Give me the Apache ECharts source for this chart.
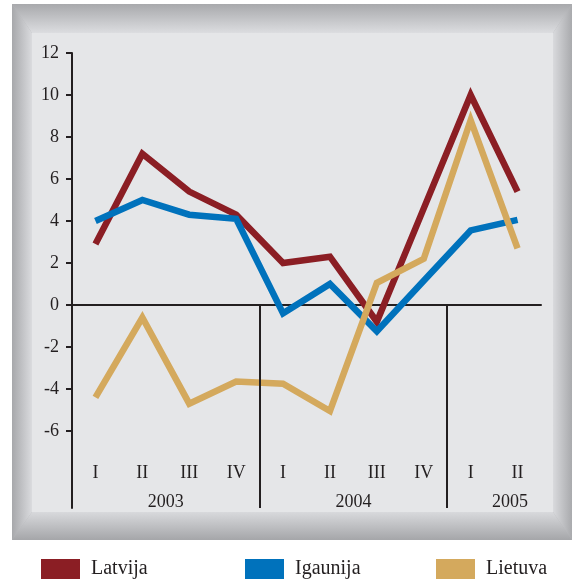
<!DOCTYPE html>
<html>
<head>
<meta charset="utf-8">
<script src="https://cdn.jsdelivr.net/npm/echarts@6/dist/echarts.min.js"></script>
<style>
html,body{margin:0;padding:0;background:#fff;}
#chart{width:572px;height:585px;}
</style>
</head>
<body>
<div id="chart"></div>
<script>
// ---- data ----
var quarters = ['I','II','III','IV','I','II','III','IV','I','II'];
var years = ['2003','2004','2005'];
var yearQuarterCounts = [4, 4, 2];
var latvija  = [2.9, 7.2, 5.4, 4.3, 2.0, 2.3, -0.8, 4.6, 10.0, 5.4];
var igaunija = [4.0, 5.0, 4.3, 4.1, -0.4, 1.0, -1.25, 1.15, 3.55, 4.05];
var lietuva  = [-4.4, -0.6, -4.7, -3.65, -3.75, -5.05, 1.05, 2.2, 8.8, 2.7];
var yTicks = [-6, -4, -2, 0, 2, 4, 6, 8, 10, 12];
var seriesNames = ['Latvija', 'Igaunija', 'Lietuva'];

// ---- derived ----
var yMin = -9.67, yMax = 12;
var boundaries = [], centers = [], acc = 0;
yearQuarterCounts.forEach(function (n) {
  centers.push(acc + n / 2);
  acc += n;
  boundaries.push(acc);
});
var separators = boundaries.slice(0, boundaries.length - 1);

var serif = "'Liberation Serif','Times New Roman',serif";
var ink = '#231f20';
var colors = ['#8b1e24', '#0072bc', '#d4a95d'];

var chart = echarts.init(document.getElementById('chart'));

function grad(x, y, x2, y2, c1, c2) {
  return new echarts.graphic.LinearGradient(x, y, x2, y2, [{offset: 0, color: c1}, {offset: 1, color: c2}]);
}
var O = {l: 12, t: 4, r: 572, b: 540};
var I = {l: 32, t: 33, r: 553, b: 512};

var option = {
  animation: false,
  backgroundColor: '#ffffff',
  graphic: [{
    type: 'group', z: -10, silent: true,
    children: [
      {type: 'rect', shape: {x: O.l, y: O.t, width: O.r - O.l, height: O.b - O.t}, style: {fill: '#b3b4b7'}},
      {type: 'polygon', shape: {points: [[O.l, O.t], [O.r, O.t], [I.r, I.t], [I.l, I.t]]},
        style: {fill: grad(0, 0, 0, 1, '#a8a9ac', '#dcdde0')}},
      {type: 'polygon', shape: {points: [[O.l, O.t], [I.l, I.t], [I.l, I.b], [O.l, O.b]]},
        style: {fill: grad(0, 0, 1, 0, '#a7a8ab', '#dadbde')}},
      {type: 'polygon', shape: {points: [[O.r, O.t], [O.r, O.b], [I.r, I.b], [I.r, I.t]]},
        style: {fill: grad(1, 0, 0, 0, '#a9aaad', '#d9dadd')}},
      {type: 'polygon', shape: {points: [[O.l, O.b], [O.r, O.b], [I.r, I.b], [I.l, I.b]]},
        style: {fill: grad(0, 1, 0, 0, '#a5a6a9', '#d8d9dc')}},
      {type: 'rect', shape: {x: I.l, y: I.t, width: I.r - I.l, height: I.b - I.t}, style: {fill: '#e5e6e8'}}
    ]
  }],
  legend: seriesNames.map(function (name, i) {
    return {
      data: [name],
      left: [41, 245, 436][i],
      top: 559,
      icon: 'rect',
      itemWidth: 39,
      itemHeight: 20,
      itemGap: 0,
      padding: 0,
      selectedMode: false,
      textStyle: {fontFamily: serif, fontSize: 20, color: ink, padding: [2, 0, 0, 6]}
    };
  }),
  grid: {left: 72, right: 31, top: 53, bottom: 77, containLabel: false, outerBoundsMode: 'none'},
  xAxis: [{
    type: 'category',
    data: quarters,
    boundaryGap: true,
    axisLine: {onZero: true, lineStyle: {color: ink, width: 2}},
    axisTick: {inside: true, length: 6, lineStyle: {color: ink, width: 2}},
    axisLabel: {show: false},
    splitLine: {show: false}
  }, {
    type: 'value',
    min: 0,
    max: quarters.length,
    position: 'bottom',
    offset: -23,
    axisLine: {show: false, onZero: false},
    axisTick: {show: false},
    splitLine: {show: false},
    axisLabel: {
      customValues: centers,
      margin: 8,
      fontFamily: serif, fontSize: 18, color: ink,
      formatter: function (v) {
        var idx = centers.indexOf(v);
        var label = years[idx];
        return idx === years.length - 1 ? '{s|' + label + '}' : label;
      },
      rich: {s: {fontFamily: serif, fontSize: 18, color: ink, padding: [0, 0, 0, 32]}}
    }
  }, {
    type: 'category',
    data: quarters,
    boundaryGap: true,
    position: 'bottom',
    offset: -52,
    axisLine: {show: false, onZero: false},
    axisTick: {show: false},
    splitLine: {show: false},
    axisLabel: {show: true, interval: 0, margin: 8, fontFamily: serif, fontSize: 18, color: ink}
  }],
  yAxis: {
    type: 'value',
    min: yMin,
    max: yMax,
    axisLine: {show: true, onZero: false, lineStyle: {color: ink, width: 2}},
    axisTick: {show: true, customValues: yTicks, length: 6, lineStyle: {color: ink, width: 2}},
    axisLabel: {customValues: yTicks, margin: 13, fontFamily: serif, fontSize: 18, color: ink},
    splitLine: {show: false}
  },
  series: [
    {name: seriesNames[0], type: 'line', data: latvija, color: colors[0]},
    {name: seriesNames[1], type: 'line', data: igaunija, color: colors[1]},
    {name: seriesNames[2], type: 'line', data: lietuva, color: colors[2]}
  ].map(function (s) {
    s.symbol = 'none';
    s.showSymbol = false;
    s.lineStyle = {width: 6.5, color: s.color, join: 'miter', cap: 'butt'};
    s.itemStyle = {color: s.color};
    s.z = 3;
    return s;
  }).concat([{
    type: 'line',
    xAxisIndex: 1,
    data: [],
    silent: true,
    markLine: {
      silent: true,
      symbol: 'none',
      label: {show: false},
      lineStyle: {color: ink, width: 2, type: 'solid'},
      data: separators.map(function (b) {
        return [{coord: [b, 0]}, {coord: [b, yMin]}];
      })
    }
  }, {
    type: 'line',
    xAxisIndex: 2,
    data: [],
    silent: true
  }])
};
chart.setOption(option);
</script>
</body>
</html>
